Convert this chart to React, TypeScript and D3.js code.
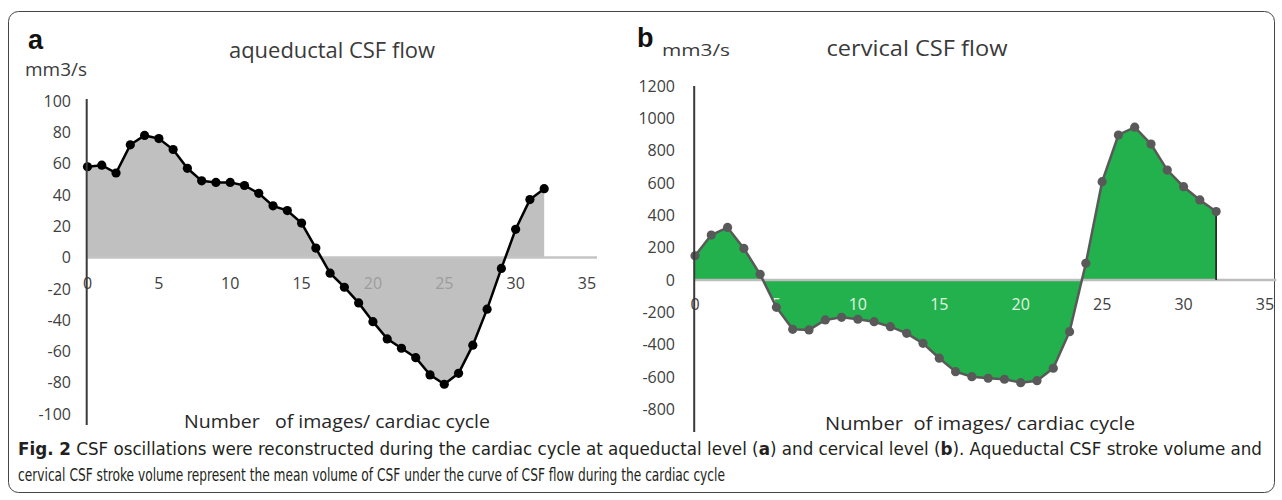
import React from "react";
import * as d3 from "d3";

// image index within the cardiac cycle (shared by both panels)
const imageIndex = [
  0, 1, 2, 3, 4, 5, 6, 7, 8, 9, 10, 11, 12, 13, 14, 15, 16,
  17, 18, 19, 20, 21, 22, 23, 24, 25, 26, 27, 28, 29, 30, 31, 32,
];

// panel a: aqueductal CSF flow, mm3/s
const aqueductalFlow = [
  58, 59, 54, 72, 78, 76, 69, 57, 49, 48, 48, 46, 41, 33, 30, 22, 6,
  -10, -19, -29, -41, -52, -58, -64, -75, -81, -74, -56, -33, -7, 18, 37, 44,
];

// panel b: cervical CSF flow, mm3/s
const cervicalFlow = [
  150, 278, 325, 195, 35, -169, -305, -309, -247, -231, -243, -258, -289, -330, -392, -484, -567,
  -598, -608, -614, -635, -623, -546, -320, 103, 608, 897, 945, 841, 680, 577, 495, 423,
];

const xTickValues = [0, 5, 10, 15, 20, 25, 30, 35];
const aqueductalTicks = [100, 80, 60, 40, 20, 0, -20, -40, -60, -80, -100];
const cervicalTicks = [1200, 1000, 800, 600, 400, 200, 0, -200, -400, -600, -800];

const FONT = "'Open Sans', 'Noto Sans', sans-serif";

interface PanelProps {
  letter: string;
  title: string;
  xTitle: string;
  values: number[];
  yTicks: number[];
  xRange: [number, number];
  yDomain: [number, number];
  yRange: [number, number];
  axisTop: number;
  axisBottom: number;
  areaColor: string;
  lineColor: string;
  zeroColor: string;
  fadedLabel: string;
  edgeColor: string | null;
  letterPos: [number, number];
  titlePos: [number, number];
  titleWidth: number;
  unitPos: [number, number];
  unitSize: number;
  unitWidth: number;
  labelRight: number;
  xLabelY: number;
  xTitlePos: [number, number];
  xTitleWidth: number;
}

const Panel: React.FC<PanelProps> = (p) => {
  const x = d3.scaleLinear().domain([0, 35]).range(p.xRange);
  const y = d3.scaleLinear().domain(p.yDomain).range(p.yRange);
  const pts = imageIndex.map((i, k) => ({ i, v: p.values[k] }));

  const area = d3
    .area<{ i: number; v: number }>()
    .x((d) => x(d.i))
    .y0(y(0))
    .y1((d) => y(d.v));
  const line = d3
    .line<{ i: number; v: number }>()
    .x((d) => x(d.i))
    .y((d) => y(d.v));

  const last = pts[pts.length - 1];
  const labelValue = y.invert(p.xLabelY);

  return (
    <g>
      <text x={p.letterPos[0]} y={p.letterPos[1]} fontFamily="'Liberation Sans', Arial, sans-serif"
        fontWeight="bold" fontSize={27} fill="#111">{p.letter}</text>
      <text x={p.titlePos[0] - p.titleWidth / 2} y={p.titlePos[1]} fontFamily={FONT} fontSize={21}
        textLength={p.titleWidth} lengthAdjust="spacingAndGlyphs" fill="#3a3a3a">{p.title}</text>
      <text x={p.unitPos[0]} y={p.unitPos[1]} fontFamily={FONT} fontSize={p.unitSize}
        textLength={p.unitWidth} lengthAdjust="spacingAndGlyphs" fill="#3a3a3a">mm3/s</text>

      {/* y tick labels */}
      {p.yTicks.map((t) => (
        <text key={t} x={p.labelRight} y={y(t)} dy="0.36em" textAnchor="end"
          fontFamily={FONT} fontSize={16} fill="#404040">{t}</text>
      ))}

      <path d={area(pts) || ""} fill={p.areaColor} />

      {/* zero line */}
      <line x1={x(0)} x2={x(35.7)} y1={y(0)} y2={y(0)} stroke={p.zeroColor} strokeWidth={2.5} />

      {/* x tick labels, placed under the zero line */}
      {xTickValues.map((t) => {
        const k = imageIndex.indexOf(t);
        const v = k >= 0 ? p.values[k] : 0;
        const inside = v < 0 && labelValue > v;
        return (
          <text key={t} x={x(t)} y={p.xLabelY} dy="0.36em" textAnchor="middle"
            fontFamily={FONT} fontSize={16} fill={inside ? p.fadedLabel : "#404040"}>{t}</text>
        );
      })}

      {p.edgeColor && (
        <line x1={x(last.i)} x2={x(last.i)} y1={y(last.v)} y2={y(0)} stroke={p.edgeColor} strokeWidth={1.6} />
      )}

      <path d={line(pts) || ""} fill="none" stroke={p.lineColor} strokeWidth={2.5} />
      {pts.map((d) => (
        <circle key={d.i} cx={x(d.i)} cy={y(d.v)} r={4.6} fill={p.lineColor} />
      ))}

      {/* vertical axis */}
      <line x1={x(0) - 0.8} x2={x(0) - 0.8} y1={p.axisTop} y2={p.axisBottom} stroke="#3a3a3a" strokeWidth={2} />

      <text x={p.xTitlePos[0] - p.xTitleWidth / 2} y={p.xTitlePos[1]} fontFamily={FONT} fontSize={19}
        textLength={p.xTitleWidth} lengthAdjust="spacingAndGlyphs"
        fill="#262626" style={{ whiteSpace: "pre" }}>
        {p.xTitle}
      </text>
    </g>
  );
};

const CAPTION_FONT = "'Liberation Sans Narrow', 'DejaVu Sans Condensed', 'Liberation Sans', sans-serif";

export default function App() {
  return (
    <svg width={1282} height={500} style={{ position: "absolute", left: 0, top: 0, background: "#fff" }}>
      <rect x={8.5} y={11.5} width={1266} height={481} rx={10} fill="none" stroke="#444" strokeWidth={1} />

      <Panel
        letter="a"
        title="aqueductal CSF flow"
        xTitle="Number   of images/ cardiac cycle"
        values={aqueductalFlow}
        yTicks={aqueductalTicks}
        xRange={[87.5, 587]}
        yDomain={[-100, 100]}
        yRange={[414, 101]}
        axisTop={99}
        axisBottom={425}
        areaColor="#c0c0c0"
        lineColor="#000"
        zeroColor="#c4c4c4"
        fadedLabel="#9c9c9c"
        edgeColor={null}
        letterPos={[28, 49]}
        titlePos={[332, 58]}
        titleWidth={206}
        unitPos={[25, 76]}
        unitSize={18}
        unitWidth={62}
        labelRight={71}
        xLabelY={283}
        xTitlePos={[337, 428]}
        xTitleWidth={306}
      />

      <Panel
        letter="b"
        title="cervical CSF flow"
        xTitle="Number  of images/ cardiac cycle"
        values={cervicalFlow}
        yTicks={cervicalTicks}
        xRange={[695, 1265]}
        yDomain={[-800, 1200]}
        yRange={[409.3, 86]}
        axisTop={86}
        axisBottom={432}
        areaColor="#22b14c"
        lineColor="#595959"
        zeroColor="#bdbdbd"
        fadedLabel="#e4f2e4"
        edgeColor="#1e1e1e"
        letterPos={[637, 47]}
        titlePos={[917, 56]}
        titleWidth={181}
        unitPos={[662, 56]}
        unitSize={17}
        unitWidth={68}
        labelRight={675}
        xLabelY={304}
        xTitlePos={[980, 430]}
        xTitleWidth={310}
      />

      <text x={18} y={455} fontFamily={CAPTION_FONT} fontSize={18} fill="#231f20"
        textLength={1244} lengthAdjust="spacingAndGlyphs">
        <tspan fontWeight="bold">Fig. 2</tspan>
        {"  CSF oscillations were reconstructed during the cardiac cycle at aqueductal level ("}
        <tspan fontWeight="bold">a</tspan>
        {") and cervical level ("}
        <tspan fontWeight="bold">b</tspan>
        {"). Aqueductal CSF stroke volume and"}
      </text>
      <text x={18} y={481} fontFamily={CAPTION_FONT} fontSize={18} fill="#231f20"
        textLength={707} lengthAdjust="spacingAndGlyphs">
        cervical CSF stroke volume represent the mean volume of CSF under the curve of CSF flow during the cardiac cycle
      </text>
    </svg>
  );
}
